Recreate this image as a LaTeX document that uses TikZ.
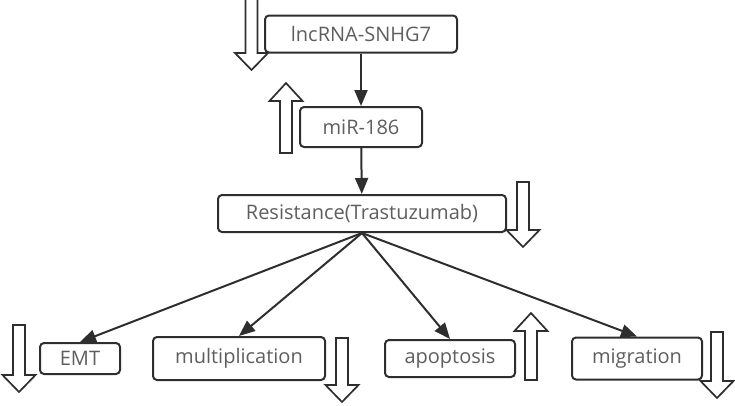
\documentclass[tikz,border=0pt]{standalone}
\usepackage{fontspec}
\setmainfont{Open Sans}
\usetikzlibrary{arrows.meta}
\definecolor{boxline}{HTML}{2E2E2E}
\definecolor{boxtext}{HTML}{5E5E5E}
\begin{document}
\begin{tikzpicture}[x=1pt,y=-1pt,>={Triangle[length=16pt,width=13pt]}]

\tikzset{%
every box/.style={
rectangle,
rounded corners=4pt,
draw=boxline,
line width=2pt,
text=boxtext,
font=\fontsize{20}{22}\selectfont,
inner sep=0pt
},
link/.style={
->,
draw=boxline,
line width=2pt
},
trend/.style={
draw=boxline,
line width=1.7pt,
fill=white
},
pics/trend down/.style={code={
\draw [trend] (-6,0) -- (6,0) -- (6,#1-17) -- (16.5,#1-17) -- (0,#1)
-- (-16.5,#1-17) -- (-6,#1-17) -- cycle;
}},
pics/trend up/.style={code={
\draw [trend] (-6,0) -- (6,0) -- (6,-#1+18) -- (16.5,-#1+18) -- (0,-#1)
-- (-16.5,-#1+18) -- (-6,-#1+18) -- cycle;
}},
}

\useasboundingbox (0,0) rectangle (735,405);

% Chain of regulation
\node [every box, minimum width=192pt, minimum height=37pt] (lnc) at (361,34) {lncRNA-SNHG7};
\node [every box, minimum width=122pt, minimum height=40pt] (mir) at (361,127) {miR-186};
\node [every box, minimum width=288pt, minimum height=37pt] (res) at (362,213.5) {Resistance(Trastuzumab)};

\draw [link] (lnc) -- (mir);
\draw [link] (mir) -- (res);

% Effects of resistance
\foreach \m/\x/\w/\h [count=\i] in {EMT/80/80/31, multiplication/239/172/43, apoptosis/450/130/37, migration/637/130/42}
\node [every box, minimum width=\w pt, minimum height=\h pt] (effect-\i) at (\x,358.5) {\m};

\foreach \i in {1,...,4}
\draw [link] (res.south) -- (effect-\i.north);

% Up and down trends
\pic (lnc-trend) at (251.5,-2) {trend down=72};
\pic (mir-trend) at (286,153) {trend up=70};
\pic (res-trend) at (523,182) {trend down=65};
\pic (emt-trend) at (19,325) {trend down=67};
\pic (mult-trend) at (342,338) {trend down=64};
\pic (apop-trend) at (531,380) {trend up=67};
\pic (migr-trend) at (717,332) {trend down=66};

\end{tikzpicture}
\end{document}
